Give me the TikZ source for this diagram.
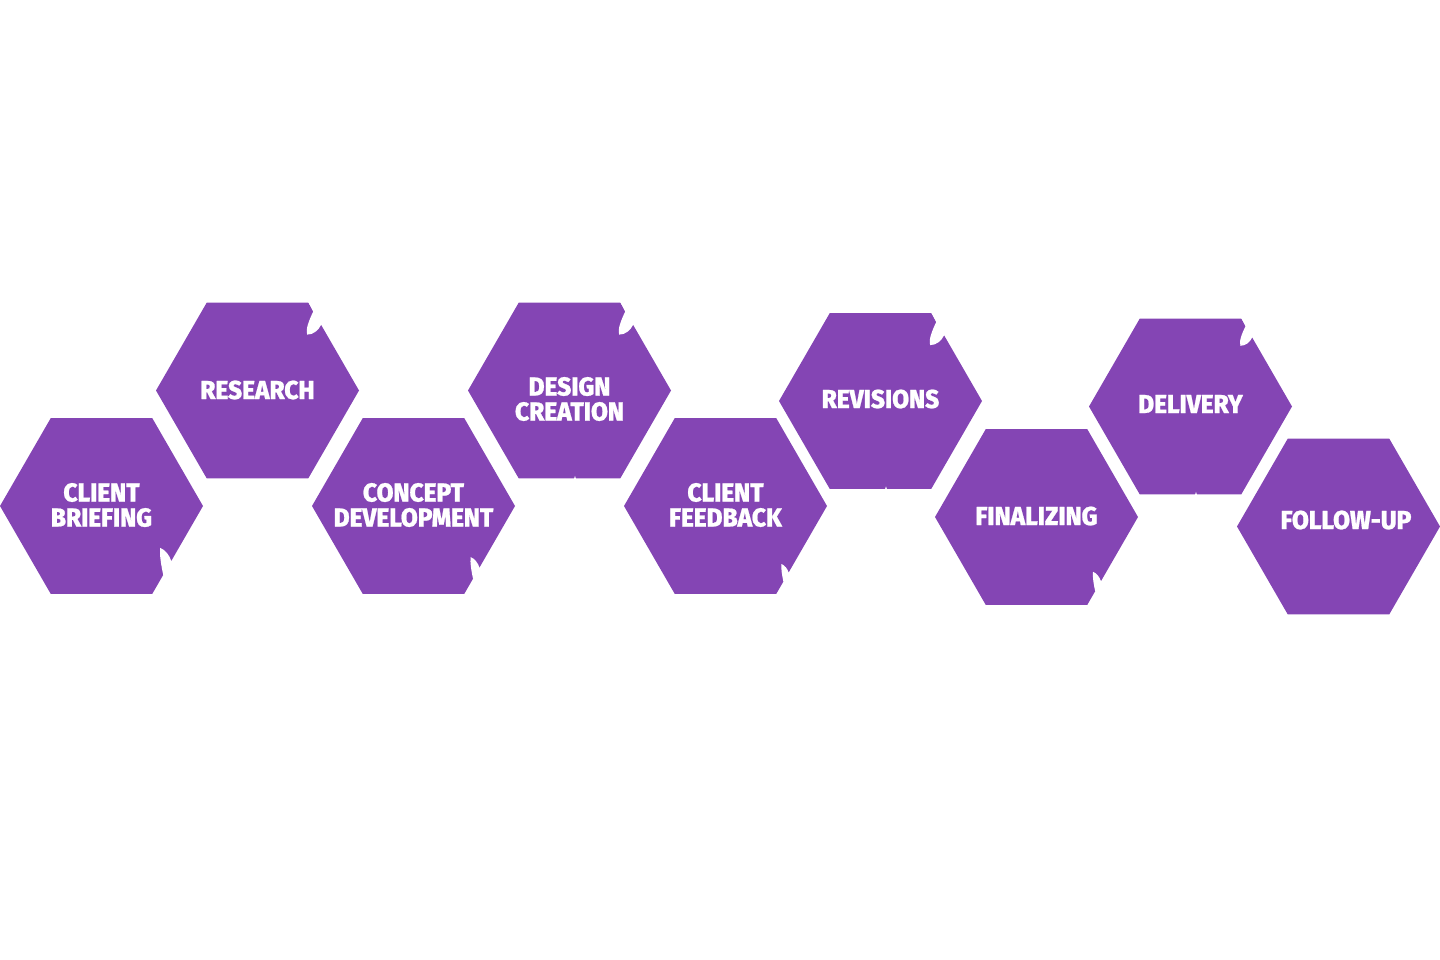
\documentclass[tikz,border=0pt]{standalone}
\usepackage{fontspec}
\newfontfamily\hexfont{Fira Sans ExtraBold}[FakeStretch=0.94, FakeBold=0.8]
\usetikzlibrary{shapes.geometric,calc}
\definecolor{hexpurple}{HTML}{8445B4}
\tikzset{
  hexa/.style={regular polygon, regular polygon sides=6, minimum size=101.5pt,
    inner sep=0pt, outer sep=0pt, fill=hexpurple, draw=none},
  lbl/.style={text=white, font=\hexfont\fontsize{13}{12.5}\selectfont, align=center, inner sep=0pt},
  notchtop/.pic={\fill[white] (-1,-3) -- (5,9) .. controls (1,17) and (-3,27) .. (-1,32)
      .. controls (5,32) and (10,28) .. (13,22) -- (24,20) -- (12,-3) -- cycle;},
  notchbot/.pic={\fill[white] (11,-19) .. controls (9,-28) and (7,-40) .. (8,-46)
      .. controls (13,-44) and (17,-39) .. (19,-33) -- (30,-33) -- (22,-17) -- cycle;},
  nick/.pic={\fill[white] (-1.2,1) -- (0,-2.5) -- (1.2,1) -- cycle;}
}
\begin{document}
\begin{tikzpicture}[x=0.5pt, y=-0.5pt]
\useasboundingbox (0,0) rectangle (1440,959);
% hexagons
\node[hexa] (h1) at (101.5,506) {};
\node[hexa] (h2) at (257.5,390.5) {};
\node[hexa] (h3) at (413.5,506) {};
\node[hexa] (h4) at (569.5,390.5) {};
\node[hexa] (h5) at (725.5,506) {};
\node[hexa] (h6) at (880.5,401) {};
\node[hexa] (h7) at (1036.5,517) {};
\node[hexa] (h8) at (1190.5,406.5) {};
\node[hexa] (h9) at (1338.5,526.5) {};
% notches (top-right of upper row)
\pic at ($(h2.center)+(50.75,-87.9)$) {notchtop};
\pic at ($(h4.center)+(50.75,-87.9)$) {notchtop};
\pic at ($(h6.center)+(50.75,-87.9)$) {notchtop};
\pic[scale=0.85] at ($(h8.center)+(50.75,-87.9)$) {notchtop};
% notches (bottom-right of lower row)
\pic at ($(h1.center)+(50.75,87.9)$) {notchbot};
\pic[scale=0.8] at ($(h3.center)+(50.75,87.9)$) {notchbot};
\pic[scale=0.65] at ($(h5.center)+(50.75,87.9)$) {notchbot};
\pic[scale=0.72] at ($(h7.center)+(50.75,87.9)$) {notchbot};
% small nicks on bottom edges
\pic at ($(h4.center)+(5.5,87.9)$) {nick};
\pic at ($(h6.center)+(5.5,87.9)$) {nick};
\pic at ($(h8.center)+(5.5,87.9)$) {nick};
% labels
\node[lbl] (t1) at (101.5,505) {CLIENT\\BRIEFING};
\node[lbl] (t2) at (257.5,390) {RESEARCH};
\node[lbl] (t3) at (413.5,505) {CONCEPT\\DEVELOPMENT};
\node[lbl] (t4) at (569.5,399) {DESIGN\\CREATION};
\node[lbl] (t5) at (725.5,505) {CLIENT\\FEEDBACK};
\node[lbl] (t6) at (880.5,399) {REVISIONS};
\node[lbl] (t7) at (1036.5,516) {FINALIZING};
\node[lbl] (t8) at (1190.5,404) {DELIVERY};
\node[lbl] (t9) at (1346,520) {FOLLOW-UP};
\end{tikzpicture}
\end{document}
